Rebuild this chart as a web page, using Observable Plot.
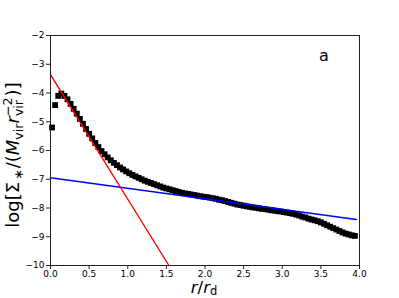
<!DOCTYPE html>
<html>
<head>
<meta charset="utf-8">
<script src="https://cdn.jsdelivr.net/npm/d3@7"></script>
<script src="https://cdn.jsdelivr.net/npm/@observablehq/plot@0.6"></script>
<style>
  html, body { margin: 0; padding: 0; background: #fff; }
  svg { display: block; }
</style>
</head>
<body>
<div id="chart"></div>
<script>
const radius = [0.02,0.06,0.10,0.14,0.18,0.22,0.26,0.30,0.34,0.38,0.42,0.46,0.50,0.54,0.58,0.62,0.66,0.70,0.74,0.78,0.82,0.86,0.90,0.94,0.98,1.02,1.06,1.10,1.14,1.18,1.22,1.26,1.30,1.34,1.38,1.42,1.46,1.50,1.54,1.58,1.62,1.66,1.70,1.74,1.78,1.82,1.86,1.90,1.94,1.98,2.02,2.06,2.10,2.14,2.18,2.22,2.26,2.30,2.34,2.38,2.42,2.46,2.50,2.54,2.58,2.62,2.66,2.70,2.74,2.78,2.82,2.86,2.90,2.94,2.98,3.02,3.06,3.10,3.14,3.18,3.22,3.26,3.30,3.34,3.38,3.42,3.46,3.50,3.54,3.58,3.62,3.66,3.70,3.74,3.78,3.82,3.86,3.90,3.94];
const logSigma = [-5.20,-4.42,-4.10,-4.02,-4.10,-4.22,-4.38,-4.55,-4.72,-4.90,-5.07,-5.25,-5.42,-5.58,-5.74,-5.88,-6.02,-6.13,-6.24,-6.34,-6.43,-6.51,-6.59,-6.66,-6.73,-6.79,-6.85,-6.90,-6.95,-7.00,-7.05,-7.09,-7.13,-7.17,-7.21,-7.25,-7.29,-7.32,-7.35,-7.38,-7.41,-7.44,-7.47,-7.49,-7.51,-7.53,-7.55,-7.57,-7.59,-7.61,-7.62,-7.64,-7.66,-7.68,-7.71,-7.73,-7.76,-7.79,-7.82,-7.85,-7.88,-7.90,-7.92,-7.94,-7.96,-7.98,-7.99,-8.01,-8.03,-8.04,-8.06,-8.08,-8.09,-8.11,-8.12,-8.14,-8.16,-8.18,-8.20,-8.23,-8.26,-8.30,-8.33,-8.37,-8.40,-8.43,-8.46,-8.50,-8.55,-8.60,-8.65,-8.70,-8.75,-8.80,-8.85,-8.89,-8.92,-8.95,-8.97];

const innerFitX = [0, 1.533];
const innerFitY = [-3.36, -10.0];
const outerFitX = [0, 3.96];
const outerFitY = [-6.95, -8.40];

const xTicks = [0, 0.5, 1.0, 1.5, 2.0, 2.5, 3.0, 3.5, 4.0];
const yTicks = [-10, -9, -8, -7, -6, -5, -4, -3, -2];

const panelLabel = ["a"];
const panelLabelX = [3.54];
const panelLabelY = [-2.72];

const points = radius.map((r, i) => ({x: r, y: logSigma[i]}));
const inner = innerFitX.map((x, i) => ({x, y: innerFitY[i]}));
const outer = outerFitX.map((x, i) => ({x, y: outerFitY[i]}));
const labels = panelLabel.map((t, i) => ({t, x: panelLabelX[i], y: panelLabelY[i]}));

const fmtMinus = s => s.replace("-", "\u2212");

const chart = Plot.plot({
  width: 399,
  height: 298,
  marginLeft: 50,
  marginRight: 40,
  marginTop: 35,
  marginBottom: 33,
  style: {fontFamily: "DejaVu Sans", fontSize: "9px", color: "black", background: "white", overflow: "visible"},
  x: {domain: [0, 4]},
  y: {domain: [-10, -2]},
  marks: [
    Plot.dot(points, {x: "x", y: "y", symbol: "square", r: 3.3, fill: "black", stroke: "none"}),
    Plot.line(outer, {x: "x", y: "y", stroke: "#0000ff", strokeWidth: 1.4}),
    Plot.line(inner, {x: "x", y: "y", stroke: "#ff0000", strokeWidth: 1.4}),
    Plot.frame({stroke: "#222", strokeWidth: 1}),
    Plot.axisX({ticks: xTicks, tickFormat: d => d.toFixed(1), tickSize: 4, tickPadding: 1, label: null, fill: "black", stroke: "#222"}),
    Plot.axisY({ticks: yTicks, tickFormat: d => fmtMinus(String(d)), tickSize: 4, tickPadding: 2, label: null, fill: "black", stroke: "#222"}),
    Plot.text(labels, {x: "x", y: "y", text: "t", fontSize: 16, fill: "black", textAnchor: "middle"})
  ]
});

document.getElementById("chart").appendChild(chart);

const svg = d3.select(chart);
const ns = "DejaVu Sans";

// x axis label: r / r_d
const xl = svg.append("text")
  .attr("x", 204).attr("y", 293)
  .attr("text-anchor", "middle")
  .attr("font-family", ns).attr("font-size", 16.5).attr("fill", "black");
xl.append("tspan").attr("font-style", "italic").text("r");
xl.append("tspan").text("/");
xl.append("tspan").attr("font-style", "italic").text("r");
xl.append("tspan").attr("font-size", 11.5).attr("dy", 2).text("d");

// y axis label: log[Σ_*/(M_vir r_vir^-2)]
const yl = svg.append("text")
  .attr("transform", "translate(19,155) rotate(-90)")
  .attr("text-anchor", "middle")
  .attr("font-family", ns).attr("font-size", 18).attr("fill", "black");
yl.append("tspan").text("log[\u03A3");
yl.append("tspan").attr("font-size", 12.6).attr("dx", 2).attr("dy", 4).text("\u2217");
yl.append("tspan").attr("dx", 1).attr("dy", -4).text("/(");
yl.append("tspan").attr("font-style", "italic").text("M");
yl.append("tspan").attr("font-size", 12.6).attr("dy", 4).text("vir");
yl.append("tspan").attr("font-style", "italic").attr("dy", -4).text("r");
yl.append("tspan").attr("font-size", 12.6).attr("dy", 4).text("vir");
yl.append("tspan").attr("font-size", 12.6).attr("dx", -16).attr("dy", -11.5).text("\u22122");
yl.append("tspan").attr("dx", 1).attr("dy", 7.5).text(")]");
</script>
</body>
</html>
